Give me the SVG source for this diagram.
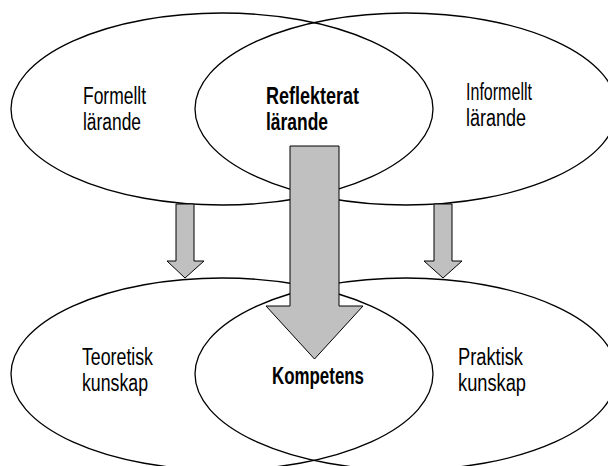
<svg xmlns="http://www.w3.org/2000/svg" width="608" height="466" viewBox="0 0 608 466">
<style>
.ell{fill:none;stroke:#000;stroke-width:1.3}
.arr{fill:#c0c0c0;stroke:#000;stroke-width:1}
.t{font-family:"Liberation Sans",Arial,sans-serif;font-size:23px;fill:#000}
.b{font-weight:bold}
</style>
<rect width="608" height="466" fill="#fff"/>
<g id="formellt">
<ellipse class="ell" cx="222" cy="109" rx="211" ry="96"/>
<text class="t" x="83" y="104" textLength="63" lengthAdjust="spacingAndGlyphs">Formellt</text>
<text class="t" x="83" y="130" textLength="58" lengthAdjust="spacingAndGlyphs">lärande</text>
</g>
<g id="informellt">
<ellipse class="ell" cx="406" cy="109" rx="211" ry="96"/>
<text class="t" x="466" y="100" textLength="66" lengthAdjust="spacingAndGlyphs">Informellt</text>
<text class="t" x="466" y="126" textLength="60" lengthAdjust="spacingAndGlyphs">lärande</text>
</g>
<g id="reflekterat">
<text class="t b" x="266" y="104" textLength="93" lengthAdjust="spacingAndGlyphs">Reflekterat</text>
<text class="t b" x="266" y="130" textLength="62" lengthAdjust="spacingAndGlyphs">lärande</text>
</g>
<g id="teoretisk">
<ellipse class="ell" cx="222" cy="374" rx="211" ry="96"/>
<text class="t" x="82" y="365" textLength="71" lengthAdjust="spacingAndGlyphs">Teoretisk</text>
<text class="t" x="82" y="391" textLength="66" lengthAdjust="spacingAndGlyphs">kunskap</text>
</g>
<g id="praktisk">
<ellipse class="ell" cx="406" cy="374" rx="211" ry="96"/>
<text class="t" x="458" y="365" textLength="65" lengthAdjust="spacingAndGlyphs">Praktisk</text>
<text class="t" x="458" y="391" textLength="68" lengthAdjust="spacingAndGlyphs">kunskap</text>
</g>
<g id="kompetens">
<text class="t b" x="272" y="384" textLength="92" lengthAdjust="spacingAndGlyphs">Kompetens</text>
</g>
<g id="connectors">
<polygon class="arr" points="176,204 194,204 194,261 204,261 185,278 167,261 176,261"/>
<polygon class="arr" points="434,204 452,204 452,261 462,261 443,278 424,261 434,261"/>
<polygon class="arr" points="290,146 339,146 339,306 363,306 314.5,359 266,306 290,306"/>
</g>
</svg>
